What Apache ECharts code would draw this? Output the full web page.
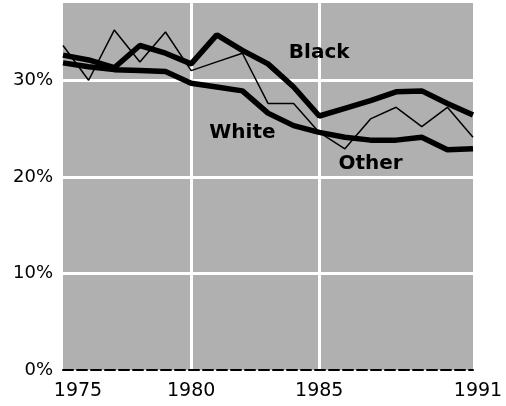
<!DOCTYPE html>
<html>
<head>
<meta charset="utf-8">
<script src="https://cdn.jsdelivr.net/npm/echarts@6/dist/echarts.min.js"></script>
<style>
  html, body { margin: 0; padding: 0; background: #fff; }
  #chart { width: 506px; height: 406px; }
</style>
</head>
<body>
<div id="chart"></div>
<script>
// years shown on the axis
var years = ["1975", "1976", "1977", "1978", "1979", "1980", "1981", "1982", "1983",
  "1984", "1985", "1986", "1987", "1988", "1989", "1990", "1991"];
var shownYears = ["1975", "1980", "1985", "1991"];

// percent values
var black = [32.6, 32.1, 31.3, 33.6, 32.8, 31.7, 34.7, 33.1, 31.7, 29.3, 26.3, 27.1, 27.9, 28.8, 28.9, 27.6, 26.4];
var white = [31.8, 31.4, 31.1, 31.0, 30.9, 29.7, 29.3, 28.9, 26.6, 25.3, 24.6, 24.1, 23.8, 23.8, 24.1, 22.8, 22.9];
var other = [33.6, 30.0, 35.2, 31.9, 35.0, 31.0, 31.9, 32.8, 27.6, 27.6, 24.6, 22.9, 26.0, 27.2, 25.2, 27.2, 24.1];

var yTicks = [0, 10, 20, 30];

var chart = echarts.init(document.getElementById("chart"));

var fontFamily = "DejaVu Sans, Liberation Sans, sans-serif";

// series name placed inside the plot, at a point in data space
function labelPoint(name, x, y) {
  return {
    coord: [x, y],
    symbol: "circle",
    symbolSize: 1,
    itemStyle: { color: "rgba(0,0,0,0)" },
    label: {
      show: true,
      formatter: name,
      position: "inside",
      color: "#000",
      fontFamily: fontFamily,
      fontWeight: "bold",
      fontSize: 20
    }
  };
}

chart.setOption({
  animation: false,
  backgroundColor: "#fff",
  grid: {
    left: 63,
    right: 33,
    top: 3,
    bottom: 36,
    show: true,
    borderWidth: 0,
    backgroundColor: "#b0b0b0"
  },
  xAxis: {
    type: "category",
    data: years.map(function (y) {
      var item = { value: y };
      if (y === "1975") item.textStyle = { padding: [0, 0, 0, 30] };
      if (y === "1991") item.textStyle = { padding: [0, 0, 0, 10] };
      return item;
    }),
    boundaryGap: false,
    axisLine: { show: true, lineStyle: { color: "#000", width: 2, type: [10, 4] } },
    axisTick: { show: false },
    axisLabel: {
      interval: 0,
      margin: 12,
      color: "#000",
      fontFamily: fontFamily,
      fontSize: 19,
      formatter: function (v) { return shownYears.indexOf(v) >= 0 ? v : ""; }
    },
    splitLine: {
      show: true,
      interval: function (idx, v) { return v === "1980" || v === "1985"; },
      lineStyle: { color: "#fff", width: 3 }
    }
  },
  yAxis: {
    type: "value",
    min: 0,
    max: 38,
    interval: 10,
    axisLine: { show: false },
    axisTick: { show: false },
    axisLabel: {
      margin: 10,
      color: "#000",
      fontFamily: fontFamily,
      fontSize: 18,
      formatter: function (v) { return yTicks.indexOf(v) >= 0 ? v + "%" : ""; }
    },
    splitLine: {
      show: true,
      showMinLine: false,
      showMaxLine: false,
      lineStyle: { color: "#fff", width: 3 }
    }
  },
  series: [
    {
      name: "Other",
      type: "line",
      data: other,
      symbol: "none",
      lineStyle: { color: "#000", width: 1.5 },
      markPoint: { data: [labelPoint("Other", 11.5, 21.4)] }
    },
    {
      name: "White",
      type: "line",
      data: white,
      symbol: "none",
      lineStyle: { color: "#000", width: 5.5 },
      markPoint: { data: [labelPoint("White", 6.9, 24.6)] }
    },
    {
      name: "Black",
      type: "line",
      data: black,
      symbol: "none",
      lineStyle: { color: "#000", width: 5.5 },
      markPoint: { data: [labelPoint("Black", 9.85, 32.8)] }
    }
  ]
});
</script>
</body>
</html>
